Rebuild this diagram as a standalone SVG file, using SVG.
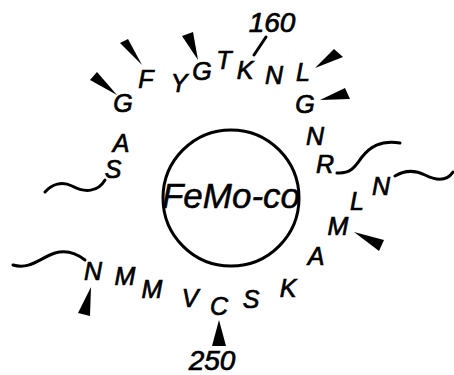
<svg xmlns="http://www.w3.org/2000/svg" width="454" height="375" viewBox="0 0 454 375">
<style>
.r{font-family:"Liberation Sans",Arial,sans-serif;font-style:italic;font-size:25px;fill:#000;stroke:#000;stroke-width:0.7;text-anchor:middle}
.n{font-size:28px}
.c{fill:none;stroke:#000;stroke-width:3;stroke-linecap:round}
.w{fill:#000}
</style>
<rect width="454" height="375" fill="#fff"/>
<g id="femoco">
<circle cx="231" cy="198" r="68" fill="none" stroke="#000" stroke-width="3"/>
<text x="231" y="208" class="r" style="font-size:35px;stroke-width:0.5">FeMo-co</text>
</g>
<g id="residues">
<g id="S1"><text x="113" y="178" class="r">S</text></g>
<g id="A1"><text x="121" y="152" class="r">A</text></g>
<g id="G1"><text x="123" y="112" class="r">G</text></g>
<g id="F1"><text x="146" y="88" class="r">F</text></g>
<g id="Y1"><text x="179" y="92" class="r">Y</text></g>
<g id="G2"><text x="202" y="80" class="r">G</text></g>
<g id="T1"><text x="224" y="69" class="r">T</text></g>
<g id="K1"><text x="245" y="79" class="r">K</text></g>
<g id="N1"><text x="274" y="84" class="r">N</text></g>
<g id="L1"><text x="303" y="81" class="r">L</text></g>
<g id="G3"><text x="305" y="113" class="r">G</text></g>
<g id="N2"><text x="315" y="145" class="r">N</text></g>
<g id="R1"><text x="325" y="173" class="r">R</text></g>
<g id="N3"><text x="381" y="195" class="r">N</text></g>
<g id="L2"><text x="357" y="210" class="r">L</text></g>
<g id="M1"><text x="338" y="235" class="r">M</text></g>
<g id="A2"><text x="316" y="265" class="r">A</text></g>
<g id="K2"><text x="288" y="297" class="r">K</text></g>
<g id="S2"><text x="251" y="308" class="r">S</text></g>
<g id="C1"><text x="219" y="315" class="r">C</text></g>
<g id="V1"><text x="190" y="307" class="r">V</text></g>
<g id="M2"><text x="152" y="298" class="r">M</text></g>
<g id="M3"><text x="125" y="285" class="r">M</text></g>
<g id="N4"><text x="93" y="280" class="r">N</text></g>
<g id="n160"><text x="272" y="32" class="r n">160</text></g>
<g id="n250"><text x="212" y="370" class="r n">250</text></g>
</g>
<g id="marks">
<polygon class="w" points="117,95 90,80 97,72"/>
<polygon class="w" points="142,65 120,43 128,39"/>
<polygon class="w" points="198,60 182,36 193,32"/>
<polygon class="w" points="315,68 334,49 343,57"/>
<polygon class="w" points="320,100 345,88 350,99"/>
<polygon class="w" points="354,232 384,240 379,251"/>
<polygon class="w" points="219,320 212,346 226,346"/>
<polygon class="w" points="91,287 78,313 90,316"/>
</g>
<g id="connectors">
<path class="c" d="M254,55 L266,37"/>
<path class="c" d="M105,180 C98,192 85,193 72,186 C62,181 52,184 45,192"/>
<path class="c" d="M337,173 C352,174 356,165 362,157 C370,147 380,140 400,143"/>
<path class="c" d="M395,176 C405,170 415,170 425,175 C437,181 447,181 453,172"/>
<path class="c" d="M85,260 C75,252 65,250 55,253 C40,258 30,270 13,265"/>
</g>
</svg>
